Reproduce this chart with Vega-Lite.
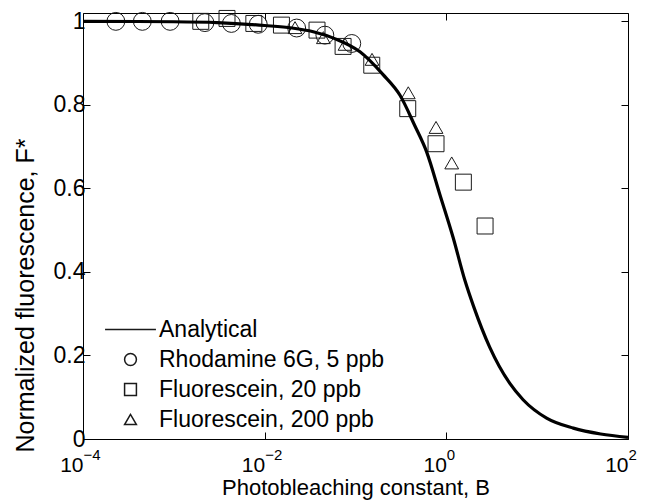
{
  "$schema": "https://vega.github.io/schema/vega-lite/v6.json",
  "width": 545,
  "height": 426,
  "autosize": "none",
  "padding": {"left": 83, "top": 13, "right": 27, "bottom": 61},
  "background": "white",
  "config": {
    "font": "Liberation Sans",
    "view": {"stroke": "black", "strokeWidth": 1},
    "axis": {
      "domain": false,
      "grid": false,
      "tickColor": "black",
      "tickSize": -7,
      "labelColor": "black",
      "titleColor": "black",
      "labelFontSize": 23,
      "titleFontSize": 23,
      "titleFontWeight": "normal"
    }
  },
  "data": {
    "values": [
      {"s": "Analytical", "B": 0.0001, "F": 1.0},
      {"s": "Analytical", "B": 0.001, "F": 0.999},
      {"s": "Analytical", "B": 0.003, "F": 0.997},
      {"s": "Analytical", "B": 0.01, "F": 0.99},
      {"s": "Analytical", "B": 0.02, "F": 0.984},
      {"s": "Analytical", "B": 0.0343, "F": 0.975},
      {"s": "Analytical", "B": 0.06, "F": 0.958},
      {"s": "Analytical", "B": 0.112, "F": 0.927},
      {"s": "Analytical", "B": 0.2, "F": 0.873},
      {"s": "Analytical", "B": 0.309, "F": 0.823},
      {"s": "Analytical", "B": 0.45, "F": 0.75},
      {"s": "Analytical", "B": 0.608, "F": 0.687},
      {"s": "Analytical", "B": 0.85, "F": 0.585},
      {"s": "Analytical", "B": 1.19, "F": 0.482},
      {"s": "Analytical", "B": 1.6, "F": 0.38},
      {"s": "Analytical", "B": 2.0, "F": 0.317},
      {"s": "Analytical", "B": 3.0, "F": 0.22},
      {"s": "Analytical", "B": 5.0, "F": 0.133},
      {"s": "Analytical", "B": 7.0, "F": 0.094},
      {"s": "Analytical", "B": 12.7, "F": 0.05},
      {"s": "Analytical", "B": 25, "F": 0.026},
      {"s": "Analytical", "B": 50, "F": 0.012},
      {"s": "Analytical", "B": 100, "F": 0.004},
      {"s": "Rhodamine 6G, 5 ppb", "B": 0.00023, "F": 1.0},
      {"s": "Rhodamine 6G, 5 ppb", "B": 0.00045, "F": 1.0},
      {"s": "Rhodamine 6G, 5 ppb", "B": 0.00091, "F": 1.0},
      {"s": "Rhodamine 6G, 5 ppb", "B": 0.0022, "F": 0.997},
      {"s": "Rhodamine 6G, 5 ppb", "B": 0.0043, "F": 0.995},
      {"s": "Rhodamine 6G, 5 ppb", "B": 0.0085, "F": 0.993},
      {"s": "Rhodamine 6G, 5 ppb", "B": 0.0225, "F": 0.984},
      {"s": "Rhodamine 6G, 5 ppb", "B": 0.046, "F": 0.967},
      {"s": "Rhodamine 6G, 5 ppb", "B": 0.091, "F": 0.947},
      {"s": "Fluorescein, 20 ppb", "B": 0.00198, "F": 1.0},
      {"s": "Fluorescein, 20 ppb", "B": 0.00385, "F": 1.007},
      {"s": "Fluorescein, 20 ppb", "B": 0.0076, "F": 0.995},
      {"s": "Fluorescein, 20 ppb", "B": 0.0153, "F": 0.991},
      {"s": "Fluorescein, 20 ppb", "B": 0.0377, "F": 0.979},
      {"s": "Fluorescein, 20 ppb", "B": 0.073, "F": 0.94},
      {"s": "Fluorescein, 20 ppb", "B": 0.151, "F": 0.895},
      {"s": "Fluorescein, 20 ppb", "B": 0.376, "F": 0.791},
      {"s": "Fluorescein, 20 ppb", "B": 0.77, "F": 0.707},
      {"s": "Fluorescein, 20 ppb", "B": 1.54, "F": 0.615},
      {"s": "Fluorescein, 20 ppb", "B": 2.67, "F": 0.51},
      {"s": "Fluorescein, 200 ppb", "B": 0.0216, "F": 0.985},
      {"s": "Fluorescein, 200 ppb", "B": 0.0443, "F": 0.961},
      {"s": "Fluorescein, 200 ppb", "B": 0.0767, "F": 0.945},
      {"s": "Fluorescein, 200 ppb", "B": 0.152, "F": 0.909},
      {"s": "Fluorescein, 200 ppb", "B": 0.381, "F": 0.829},
      {"s": "Fluorescein, 200 ppb", "B": 0.77, "F": 0.746},
      {"s": "Fluorescein, 200 ppb", "B": 1.146, "F": 0.661}
    ]
  },
  "layer": [
    {
      "transform": [{"filter": "datum.s !== 'Analytical'"}],
      "mark": {"type": "point", "filled": false, "strokeWidth": 1, "color": "#1a1a1a", "opacity": 1, "clip": false},
      "encoding": {
        "x": {
          "field": "B", "type": "quantitative",
          "scale": {"type": "log", "domain": [0.0001, 100], "nice": false},
          "axis": {
            "orient": "bottom",
            "values": [0.0001, 0.01, 1, 100],
            "labelExpr": "'10'",
            "labelAlign": "right",
            "labelDx": -1,
            "labelFontSize": 21,
            "labelPadding": 22,
            "title": "Photobleaching constant, B",
            "titleFontSize": 22,
            "titleBaseline": "alphabetic",
            "titleY": 55.5
          }
        },
        "y": {
          "field": "F", "type": "quantitative",
          "scale": {"domain": [0, 1.02], "nice": false, "zero": false},
          "axis": {
            "orient": "left",
            "values": [0, 0.2, 0.4, 0.6, 0.8, 1],
            "format": "~g",
            "labelPadding": 5,
            "title": "Normalized fluorescence, F*",
            "titleFontSize": 25,
            "titleBaseline": "middle",
            "titleAlign": "center",
            "titleX": -58,
            "titleY": 282
          }
        },
        "shape": {
          "field": "s", "type": "nominal",
          "scale": {
            "domain": ["Analytical", "Rhodamine 6G, 5 ppb", "Fluorescein, 20 ppb", "Fluorescein, 200 ppb"],
            "range": ["M-4.3,0L4.3,0", "circle", "square", "triangle-up"]
          },
          "legend": {
            "title": null,
            "orient": "none",
            "legendX": 36,
            "legendY": 305,
            "padding": 0,
            "symbolSize": 140,
            "symbolStrokeColor": "#1a1a1a",
            "labelFontSize": 23,
            "labelColor": "black",
            "labelOffset": 17,
            "labelLimit": 400,
            "rowPadding": 6,
            "encode": {
              "symbols": {
                "update": {
                  "strokeWidth": {"signal": "datum.value === 'Analytical' ? 3.5 : 1"},
                  "size": {"signal": "datum.value === 'Fluorescein, 200 ppb' ? 220 : (datum.value === 'Fluorescein, 20 ppb' ? 100 : 140)"}
                }
              }
            }
          }
        },
        "size": {
          "field": "s", "type": "nominal",
          "scale": {"domain": ["Rhodamine 6G, 5 ppb", "Fluorescein, 20 ppb", "Fluorescein, 200 ppb"], "range": [320, 190, 360]},
          "legend": null
        }
      }
    },
    {
      "transform": [{"filter": "datum.s === 'Analytical'"}],
      "mark": {"type": "line", "color": "black", "strokeWidth": 3.2, "interpolate": "monotone"},
      "encoding": {
        "x": {
          "field": "B", "type": "quantitative",
          "axis": {
            "orient": "bottom",
            "values": [0.0001, 0.01, 1, 100],
            "labelExpr": "format(log(datum.value)/LN10, 'd')",
            "labelAlign": "left",
            "labelDx": 0,
            "labelPadding": 8,
            "labelFontSize": 15,
            "ticks": false,
            "title": null
          }
        },
        "y": {
          "field": "F", "type": "quantitative",
          "axis": {"orient": "right", "values": [0, 0.2, 0.4, 0.6, 0.8, 1], "labels": false, "title": null}
        }
      }
    },
    {
      "transform": [{"filter": "datum.s === 'Analytical'"}],
      "mark": {"type": "line", "strokeOpacity": 0},
      "encoding": {
        "x": {
          "field": "B", "type": "quantitative",
          "axis": {"orient": "top", "values": [0.0001, 0.01, 1, 100], "labels": false, "title": null}
        },
        "y": {"field": "F", "type": "quantitative", "axis": null}
      }
    }
  ],
  "resolve": {"axis": {"x": "independent", "y": "independent"}}
}
